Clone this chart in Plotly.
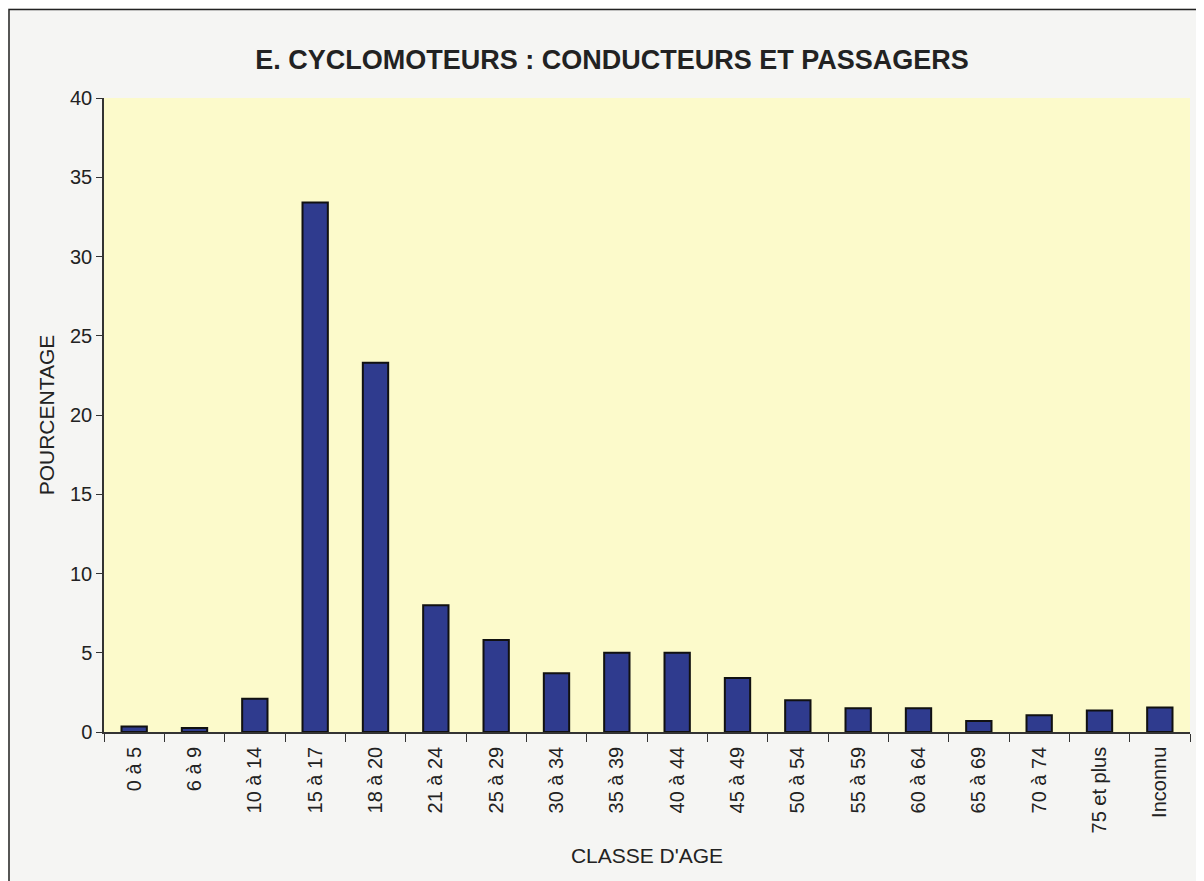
import plotly.graph_objects as go

# Classes d'âge et pourcentages
classes = ["0 à 5", "6 à 9", "10 à 14", "15 à 17", "18 à 20", "21 à 24",
           "25 à 29", "30 à 34", "35 à 39", "40 à 44", "45 à 49", "50 à 54",
           "55 à 59", "60 à 64", "65 à 69", "70 à 74", "75 et plus", "Inconnu"]
pourcentages = [0.35, 0.25, 2.1, 33.4, 23.3, 8.0,
                5.8, 3.7, 5.0, 5.0, 3.4, 2.0,
                1.5, 1.5, 0.7, 1.05, 1.35, 1.55]
y_ticks = [0, 5, 10, 15, 20, 25, 30, 35, 40]

# la page ajoute 8px de marge autour de la figure
W, H = 1196, 873
L, R, T, B = 96, 14, 90, 149
pw, ph = W - L - R, H - T - B

fig = go.Figure()
fig.add_trace(go.Bar(
    x=classes, y=pourcentages,
    marker=dict(color='#2f3b8e', line=dict(color='#111111', width=2)),
    width=0.42,
    showlegend=False
))

# cadre (bords gauche et haut visibles)
fig.add_shape(type='rect', xref='paper', yref='paper',
              x0=(1 - L) / pw, x1=(W + 20 - L) / pw,
              y0=-(B + 20) / ph, y1=1 + (T - 1.5) / ph,
              line=dict(color='#222222', width=1.5), layer='below')

fig.update_layout(
    width=W, height=H,
    margin=dict(l=L, r=R, t=T, b=B),
    paper_bgcolor='#f5f5f3',
    plot_bgcolor='#fcfacb',
    font=dict(family='Liberation Sans, Arial', color='#222222', size=20),
    title=dict(text='<b>E. CYCLOMOTEURS : CONDUCTEURS ET PASSAGERS</b>',
               x=(612 - 8 - L) / pw, xref='paper', xanchor='center',
               y=1 - 52 / H, yanchor='middle',
               font=dict(size=27, color='#222222')),
    xaxis=dict(
        title=dict(text="CLASSE D'AGE", standoff=16, font=dict(size=21)),
        tickangle=-90, tickson='boundaries', ticklabelstandoff=5,
        ticks='outside', ticklen=8, tickcolor='#333333',
        showline=True, linecolor='#333333', linewidth=1.5,
        showgrid=False, tickfont=dict(size=20)
    ),
    yaxis=dict(
        title=dict(text='POURCENTAGE', standoff=10, font=dict(size=21)),
        range=[0, 40], tickvals=y_ticks,
        ticks='outside', ticklen=6, tickcolor='#333333',
        showline=True, linecolor='#333333', linewidth=1.5,
        showgrid=False, zeroline=False, tickfont=dict(size=20)
    ),
)

fig.write_html("out.html")
